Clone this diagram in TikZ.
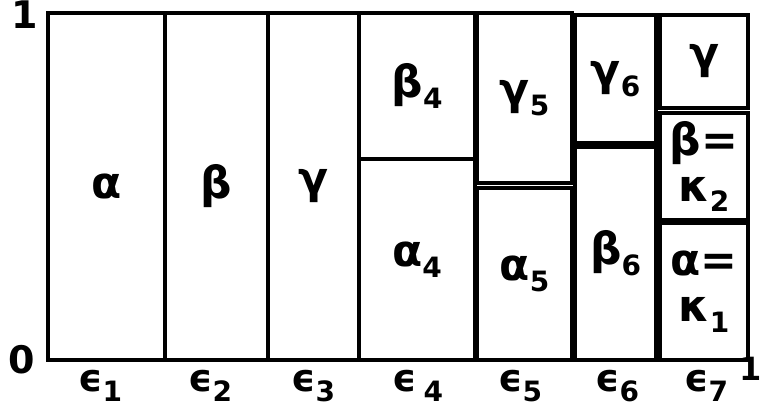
\documentclass[tikz,border=0pt]{standalone}
\usepackage{fontspec}
\setmainfont{DejaVu Sans}
\usepackage{tikz}
\newcommand{\idx}[1]{\raisebox{-0.45ex}{\fontsize{28}{30}\selectfont #1}}

\begin{document}
\begin{tikzpicture}[
  x=1pt, y=-1pt,
  cell/.style={draw, line width=3.4pt, inner sep=0pt, align=center, font=\fontsize{44}{46}\selectfont\bfseries},
  axis/.style={inner sep=0pt, font=\fontsize{38}{40}\selectfont\bfseries},
  eps/.style={font=\fontsize{38}{40}\selectfont\bfseries}
]
\useasboundingbox (0,0) rectangle (762,407);

% first three columns
\node[cell, minimum width=117pt, minimum height=347pt] (a1) at (106.5,186.5) {α};
\node[cell, minimum width=103pt, minimum height=347pt] (b2) at (216.5,186.5) {β};
\node[cell, minimum width=91pt, minimum height=347pt] (g3) at (313.5,186.5) {γ};

% split columns
\node[cell, minimum width=116pt, minimum height=146pt] (b4) at (417,86) {β\idx{4}};
\node[cell, minimum width=116pt, minimum height=201pt] (a4) at (417,259.5) {α\idx{4}};

\node[cell, minimum width=95pt, minimum height=170pt] (g5) at (524.5,98) {γ\idx{5}};
\node[cell, minimum width=95pt, minimum height=172pt] (a5) at (524.5,274) {α\idx{5}};

\node[cell, minimum width=81pt, minimum height=128pt] (g6) at (615.5,79) {γ\idx{6}};
\node[cell, minimum width=81pt, minimum height=213pt] (b6) at (615.5,253.5) {β\idx{6}};

\node[cell, minimum width=88pt, minimum height=93pt] (g7) at (704,61.5) {γ};
\node[cell, minimum width=88pt, minimum height=107pt] (b7) at (704,166.5) {β=\\κ\idx{2}};
\node[cell, minimum width=88pt, minimum height=137pt] (a7) at (704,291.5) {α=\\κ\idx{1}};

% axis marks
\node[axis] (top) at (25,15) {1};
\node[axis] (zero) at (22,360) {0};
\node[axis, font=\fontsize{32}{34}\selectfont\bfseries] (right) at (751,369) {1};

% column labels
\node[eps] (e1) at (100,386) {ϵ\idx{1}};
\node[eps] (e2) at (210,386) {ϵ\idx{2}};
\node[eps] (e3) at (313,386) {ϵ\idx{3}};
\node[eps] (e4) at (418,386) {ϵ\,\idx{4}};
\node[eps] (e5) at (520,386) {ϵ\idx{5}};
\node[eps] (e6) at (617,386) {ϵ\idx{6}};
\node[eps] (e7) at (706,386) {ϵ\idx{7}};
\end{tikzpicture}
\end{document}
